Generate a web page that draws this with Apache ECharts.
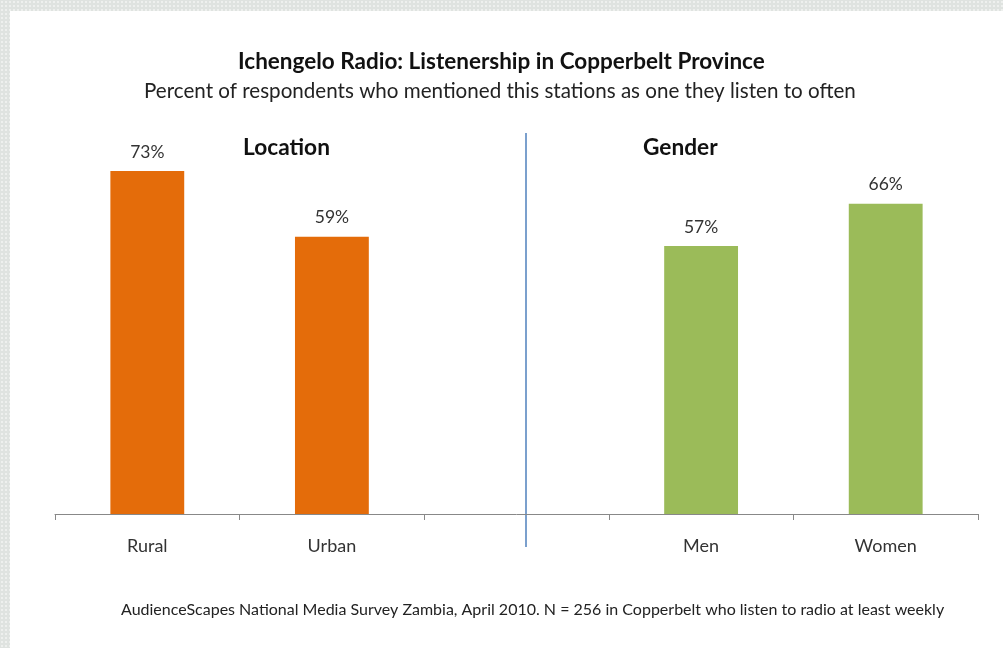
<!DOCTYPE html>
<html>
<head>
<meta charset="utf-8">
<script src="https://cdn.jsdelivr.net/npm/echarts@6/dist/echarts.min.js"></script>
<style>
  html, body { margin: 0; padding: 0; }
  body {
    width: 1003px; height: 648px;
    background-color: #dfe3e0;
    background-image: radial-gradient(#eef0ee 1px, transparent 1.2px);
    background-size: 4px 4px;
  }
  #chart {
    position: absolute; left: 10px; top: 11px;
    width: 993px; height: 637px;
    background: #fff;
  }
</style>
</head>
<body>
<div id="chart"></div>
<script>
// data
const categories = ['Rural', 'Urban', '', 'Men', 'Women'];
const values = [73, 59, null, 57, 66];
const groups = ['Location', 'Location', '', 'Gender', 'Gender'];
const groupColors = { Location: '#e46c0a', Gender: '#9bbb59' };

const font = 'Lato, "Open Sans", sans-serif';

const chart = echarts.init(document.getElementById('chart'));

const option = {
  animation: false,
  title: [
    {
      text: 'Ichengelo Radio: Listenership in Copperbelt Province',
      left: 223, top: 34,
      textStyle: { fontFamily: font, fontSize: 22.5, fontWeight: 'bold', color: '#111' }
    },
    {
      text: 'Percent of respondents who mentioned this stations as one they listen to often',
      left: 129, top: 65,
      textStyle: { fontFamily: font, fontSize: 20.6, fontWeight: 'normal', color: '#222' }
    },
    {
      text: 'Location',
      left: 228, top: 120,
      textStyle: { fontFamily: font, fontSize: 22.7, fontWeight: 'bold', color: '#111' }
    },
    {
      text: 'Gender',
      left: 628, top: 120,
      textStyle: { fontFamily: font, fontSize: 22.7, fontWeight: 'bold', color: '#111' }
    },
    {
      text: 'AudienceScapes National Media Survey Zambia, April 2010. N = 256 in Copperbelt who listen to radio at least weekly',
      left: 106, top: 586,
      textStyle: { fontFamily: font, fontSize: 16, fontWeight: 'normal', color: '#222' }
    }
  ],
  grid: { left: 45, right: 25, top: 33, bottom: 134 },
  xAxis: {
    type: 'category',
    data: categories,
    boundaryGap: true,
    axisLine: { lineStyle: { color: '#888', width: 1 } },
    axisTick: { show: true, interval: 0, length: 6, lineStyle: { color: '#888' } },
    axisLabel: { interval: 0, margin: 23, fontFamily: font, fontSize: 18, color: '#333' }
  },
  yAxis: {
    type: 'value', min: 0, max: 100,
    show: false,
    splitLine: { show: false }
  },
  series: [{
    type: 'bar',
    barWidth: '40%',
    data: values.map((v, i) => ({
      value: v,
      itemStyle: { color: groupColors[groups[i]] || '#ccc' }
    })),
    label: {
      show: true, position: 'top', distance: 10,
      formatter: p => p.value + '%',
      fontFamily: font, fontSize: 17.5, color: '#333'
    }
  }],
  graphic: [{
    type: 'line',
    shape: { x1: 516, y1: 122, x2: 516, y2: 536 },
    style: { stroke: '#4f81bd', lineWidth: 1.5 }
  }]
};

chart.setOption(option);
</script>
</body>
</html>
